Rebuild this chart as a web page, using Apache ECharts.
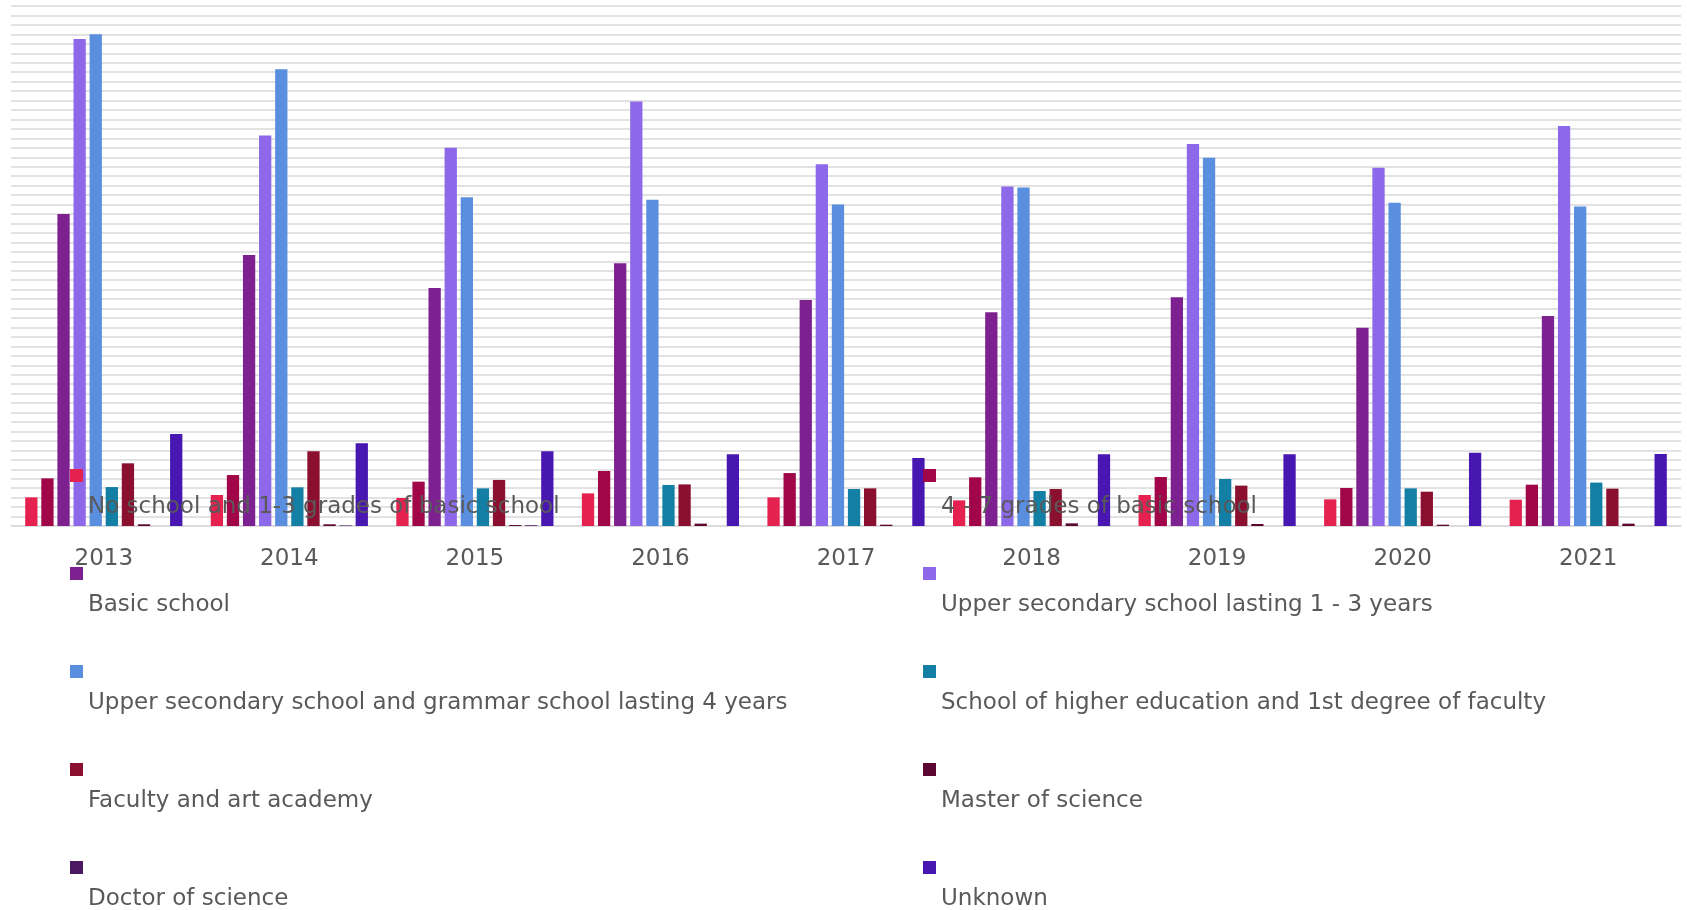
<!DOCTYPE html>
<html>
<head>
<meta charset="utf-8">
<script src="https://cdn.jsdelivr.net/npm/echarts@6/dist/echarts.min.js"></script>
<style>
html,body{margin:0;padding:0;background:#fff;}
#chart{width:1687px;height:910px;}
</style>
</head>
<body>
<div id="chart"></div>
<script>
const categories = ['2013','2014','2015','2016','2017','2018','2019','2020','2021'];

const seriesNames = [
  'No school and 1-3 grades of basic school',
  '4 - 7 grades of basic school',
  'Basic school',
  'Upper secondary school lasting 1 - 3 years',
  'Upper secondary school and grammar school lasting 4 years',
  'School of higher education and 1st degree of faculty',
  'Faculty and art academy',
  'Master of science',
  'Doctor of science',
  'Unknown'
];

const noSchool = [3.03, 3.28, 2.96, 3.45, 3.03, 2.71, 3.28, 2.82, 2.78];
const grades47 = [5.04, 5.39, 4.69, 5.82, 5.60, 5.15, 5.18, 4.02, 4.37];
const basicSchool = [33.0, 28.66, 25.17, 27.8, 23.9, 22.6, 24.2, 20.98, 22.2];
const upperSec13 = [51.5, 41.3, 40.0, 44.9, 38.25, 35.9, 40.4, 37.9, 42.3];
const upperSec4 = [52.0, 48.3, 34.76, 34.5, 34.0, 35.8, 38.96, 34.2, 33.8];
const higherEdu = [4.12, 4.09, 3.98, 4.34, 3.91, 3.70, 4.97, 3.98, 4.59];
const faculty = [6.63, 7.9, 4.87, 4.4, 3.98, 3.91, 4.27, 3.63, 3.95];
const master = [0.18, 0.18, 0.10, 0.25, 0.14, 0.28, 0.21, 0.14, 0.25];
const doctor = [0, 0.06, 0.08, 0, 0, 0, 0, 0, 0];
const unknown = [9.73, 8.74, 7.9, 7.58, 7.19, 7.58, 7.58, 7.76, 7.62];

const seriesData = [noSchool, grades47, basicSchool, upperSec13, upperSec4, higherEdu, faculty, master, doctor, unknown];

const colors = ['#E5224F','#A00648','#7E2190','#8D68E8','#5A8FE0','#137FA5','#8B102F','#5C0731','#4B1961','#4816B0'];

const FONT = 'DejaVu Sans';
const TEXT_COLOR = '#595959';

const chart = echarts.init(document.getElementById('chart'), null, {renderer: 'canvas'});

const legendCommon = {
  orient: 'vertical',
  icon: 'rect',
  itemWidth: 13,
  itemHeight: 13,
  itemGap: 11,
  top: 432,
  height: 600,
  padding: 0,
  selectedMode: false,
  formatter: function (name) { return '{t|' + name + '}'; },
  textStyle: {
    fontFamily: FONT,
    fontSize: 23,
    color: TEXT_COLOR,
    rich: {
      t: {
        fontFamily: FONT,
        fontSize: 23,
        color: TEXT_COLOR,
        lineHeight: 24,
        padding: [64, 0, 0, 0]
      }
    }
  }
};

const option = {
  backgroundColor: '#ffffff',
  animation: false,
  color: colors,
  grid: {left: 11, right: 6, top: 6, bottom: 384, containLabel: false},
  legend: [
    Object.assign({}, legendCommon, {left: 70, data: seriesNames.filter((n, i) => i % 2 === 0)}),
    Object.assign({}, legendCommon, {left: 923, data: seriesNames.filter((n, i) => i % 2 === 1)})
  ],
  xAxis: {
    type: 'category',
    data: categories,
    axisTick: {show: false},
    axisLine: {show: true, lineStyle: {color: '#d9d9d9', width: 1.5}},
    axisLabel: {fontFamily: FONT, fontSize: 23, color: TEXT_COLOR, margin: 22}
  },
  yAxis: {
    type: 'value',
    min: 0,
    max: 55,
    interval: 1,
    axisLabel: {show: false},
    axisLine: {show: false},
    axisTick: {show: false},
    splitLine: {show: true, lineStyle: {color: '#d9d9d9', width: 1.5}}
  },
  series: seriesNames.map((name, i) => ({
    name: name,
    type: 'bar',
    data: seriesData[i],
    barGap: '31%',
    barCategoryGap: '15.3%',
    itemStyle: {color: colors[i]}
  }))
};

chart.setOption(option);
</script>
</body>
</html>
